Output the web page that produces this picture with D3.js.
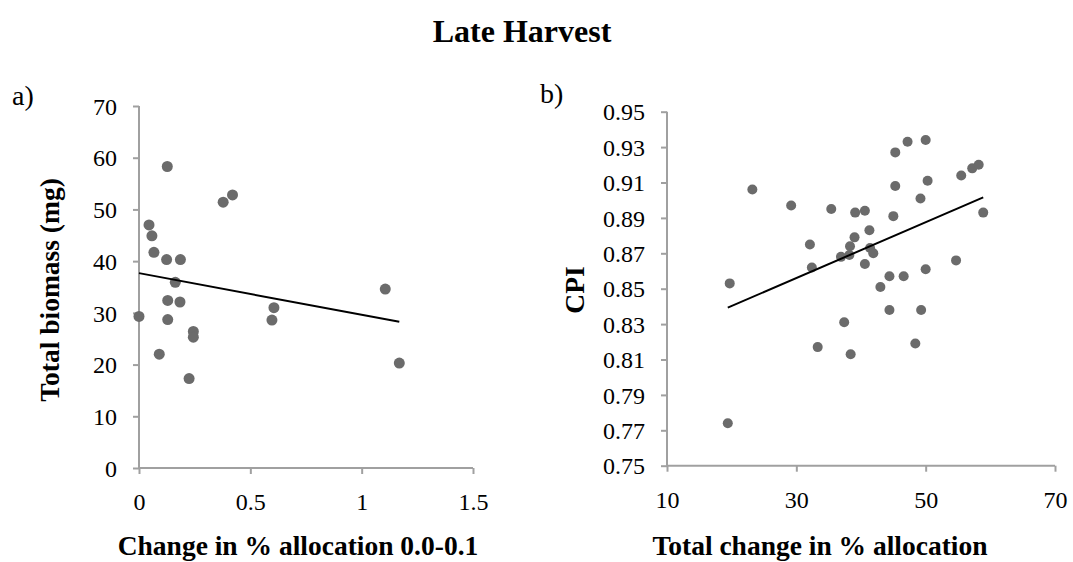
<!DOCTYPE html>
<meta charset="utf-8">
<html>
<head>
<script src="https://cdn.jsdelivr.net/npm/d3@7"></script>
<style>
body { margin: 0; background: #fff; }
text { font-family: "Liberation Serif", "Times New Roman", serif; fill: #000; }
.axis path, .axis line { stroke: #a0a0a0; stroke-width: 2; }
.axis text { font-size: 24px; }
.axTitle { font-size: 27.5px; font-weight: bold; }
</style>
</head>
<body>
<script>

// Panel a: change in % allocation 0.0-0.1 vs total biomass (mg)
var allocA   = [0, 0.045, 0.058, 0.067, 0.124, 0.186, 0.163, 0.129, 0.184, 0.129, 0.091,
                0.244, 0.244, 0.225, 0.127, 0.378, 0.42, 0.606, 0.597, 1.106, 1.169];
var biomassA = [29.3, 47.0, 44.9, 41.7, 40.3, 40.3, 35.9, 32.4, 32.1, 28.7, 22.0,
                26.4, 25.3, 17.3, 58.3, 51.4, 52.8, 31.0, 28.6, 34.6, 20.3];
var xTicksA = [0, 0.5, 1, 1.5];
var yTicksA = [0, 10, 20, 30, 40, 50, 60, 70];

// Panel b: total change in % allocation vs CPI
var allocB = [19.4, 19.7, 23.2, 29.2, 32.1, 32.4, 33.3, 35.4, 36.9, 37.4, 38.2, 38.3, 38.4,
              39.0, 39.1, 40.6, 40.6, 41.3, 41.4, 41.9, 43.0, 44.4, 44.4, 45.0, 45.3, 45.3,
              46.6, 47.2, 48.4, 49.2, 49.3, 50.0, 50.0, 50.3, 54.7, 55.5, 57.2, 58.2, 58.9];
var cpiB   = [0.774, 0.853, 0.906, 0.897, 0.875, 0.862, 0.817, 0.895, 0.868, 0.831, 0.869, 0.874, 0.813,
              0.879, 0.893, 0.894, 0.864, 0.883, 0.873, 0.870, 0.851, 0.857, 0.838, 0.891, 0.908, 0.927,
              0.857, 0.933, 0.819, 0.901, 0.838, 0.934, 0.861, 0.911, 0.866, 0.914, 0.918, 0.920, 0.893];
var xTicksB = [10, 30, 50, 70];
var yTicksB = [0.75, 0.77, 0.79, 0.81, 0.83, 0.85, 0.87, 0.89, 0.91, 0.93, 0.95];

var svg = d3.select("body").append("svg")
  .attr("width", 1073)
  .attr("height", 562);

svg.append("text")
  .attr("x", 522).attr("y", 42)
  .attr("text-anchor", "middle")
  .style("font-size", "32px").style("font-weight", "bold")
  .text("Late Harvest");

// least squares fit, drawn over the range of the data
function fitLine(xs, ys) {
  var mx = d3.mean(xs), my = d3.mean(ys);
  var sxy = d3.sum(xs, function(v, i) { return (v - mx) * (ys[i] - my); });
  var sxx = d3.sum(xs, function(v) { return (v - mx) * (v - mx); });
  var b = sxy / sxx, a = my - b * mx;
  var ext = d3.extent(xs);
  return ext.map(function(v) { return [v, a + b * v]; });
}

function drawPanel(p) {
  var x = d3.scaleLinear().domain(p.xDomain).range([p.left, p.right]);
  var y = d3.scaleLinear().domain(p.yDomain).range([p.bottom, p.top]);

  svg.append("g").attr("class", "axis")
    .attr("transform", "translate(0," + p.bottom + ")")
    .call(d3.axisBottom(x).tickValues(p.xTicks).tickSize(6).tickSizeOuter(0)
      .tickFormat(p.xFmt))
    .call(function(g) {
      g.select(".domain").attr("d", "M" + p.left + ",0H" + p.right);
      g.selectAll("text").attr("dy", null).attr("y", 42);
    });

  svg.append("g").attr("class", "axis")
    .attr("transform", "translate(" + p.left + ",0)")
    .call(d3.axisLeft(y).tickValues(p.yTicks).tickSize(6).tickSizeOuter(0)
      .tickFormat(p.yFmt))
    .call(function(g) {
      g.select(".domain").attr("d", "M0," + p.top + "V" + p.bottom);
      g.selectAll("text").attr("x", -22).attr("dy", "0.34em");
    });

  var pts = p.xs.map(function(v, i) { return [v, p.ys[i]]; });
  svg.append("g").selectAll("circle")
    .data(pts)
    .enter().append("circle")
    .attr("cx", function(d) { return x(d[0]); })
    .attr("cy", function(d) { return y(d[1]); })
    .attr("r", p.r)
    .style("fill", "#6b6b6b");

  svg.append("path")
    .datum(fitLine(p.xs, p.ys))
    .attr("d", d3.line().x(function(d) { return x(d[0]); }).y(function(d) { return y(d[1]); }))
    .style("fill", "none")
    .style("stroke", "#000")
    .style("stroke-width", 2);

  svg.append("text")
    .attr("class", "axTitle")
    .attr("text-anchor", "middle")
    .attr("x", p.xLabelX).attr("y", 555)
    .text(p.xLabel);

  svg.append("text")
    .attr("class", "axTitle")
    .attr("text-anchor", "middle")
    .attr("transform", "translate(" + p.yLabelX + "," + p.yLabelY + ") rotate(-90)")
    .text(p.yLabel);

  svg.append("text")
    .attr("x", p.tagX).attr("y", p.tagY)
    .style("font-size", "28px")
    .text(p.tag);
}

drawPanel({
  xs: allocA, ys: biomassA, xTicks: xTicksA, yTicks: yTicksA,
  xDomain: [0, 1.5], yDomain: [0, 70],
  left: 139, right: 473, top: 106, bottom: 468, r: 5.5,
  xFmt: d3.format(""), yFmt: d3.format("d"),
  xLabel: "Change in % allocation 0.0-0.1", xLabelX: 298,
  yLabel: "Total biomass (mg)", yLabelX: 59, yLabelY: 290,
  tag: "a)", tagX: 12, tagY: 105
});

drawPanel({
  xs: allocB, ys: cpiB, xTicks: xTicksB, yTicks: yTicksB,
  xDomain: [10, 70], yDomain: [0.75, 0.95],
  left: 667, right: 1055, top: 111.7, bottom: 465.7, r: 5,
  xFmt: d3.format("d"), yFmt: d3.format(".2f"),
  xLabel: "Total change in % allocation", xLabelX: 820,
  yLabel: "CPI", yLabelX: 584, yLabelY: 290,
  tag: "b)", tagX: 540, tagY: 103
});
</script>
</body>
</html>
